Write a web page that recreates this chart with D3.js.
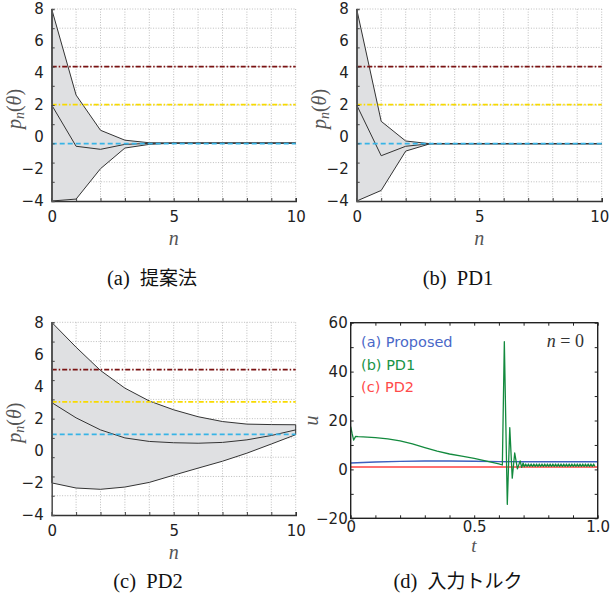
<!DOCTYPE html>
<html><head><meta charset="utf-8">
<script src="https://cdn.jsdelivr.net/npm/d3@7"></script>
<style>body{margin:0;background:#fff}svg{display:block}</style>
</head><body>
<svg id="c" width="610" height="604"></svg>
<script>
// ---------- data ----------
const nSteps = [0,1,2,3,4,5,6,7,8,9,10];
const nTickLabels = [0,5,10];
const pTickLabels = [8,6,4,2,0,-2,-4];
const nGrid = [1,2,3,4,5,6,7,8,9,10];
const pGrid = [8,6.8,5.6,4.4,3.2,2.0,0.8,-0.4,-1.6,-2.8];

// (a) proposed
const upperA  = [8, 2.62, 0.42, -0.2, -0.36, -0.38, -0.38, -0.38, -0.38, -0.38, -0.38];
const middleA = [2, -0.58, -0.77, -0.46, -0.4, -0.38, -0.38, -0.38, -0.38, -0.38, -0.38];
const lowerA  = [-4, -3.88, -1.98, -0.69, -0.46, -0.38, -0.38, -0.38, -0.38, -0.38, -0.38];
const refA    = [4.4, 2.02, -0.42];
// (b) PD1
const upperB  = [8, 0.98, -0.25, -0.42, -0.42, -0.42, -0.42, -0.42, -0.42, -0.42, -0.42];
const middleB = [2, -1.17, -0.58, -0.42, -0.42, -0.42, -0.42, -0.42, -0.42, -0.42, -0.42];
const lowerB  = [-4, -3.34, -0.88, -0.42, -0.42, -0.42, -0.42, -0.42, -0.42, -0.42, -0.42];
const refB    = [4.4, 2.02, -0.42];
// (c) PD2
const upperC  = [8, 6.45, 5.0, 3.9, 3.1, 2.55, 2.12, 1.82, 1.66, 1.63, 1.62];
const middleC = [3, 2.05, 1.3, 0.8, 0.58, 0.5, 0.47, 0.52, 0.68, 0.95, 1.3];
const lowerC  = [-2, -2.32, -2.4, -2.26, -1.97, -1.52, -1.08, -0.65, -0.15, 0.42, 1.0];
const refC    = [5.05, 3.05, 1.02];

// (d) input torque
const tTickLabels = [0, 0.5, 1.0];
const uTickLabels = [60, 40, 20, 0, -20];
const tMinor = [0,0.1,0.2,0.3,0.4,0.5,0.6,0.7,0.8,0.9,1.0];
const uMinor = [-20,-10,0,10,20,30,40,50,60];
const tBlue = [0, 0.05, 0.1, 0.2, 0.3, 0.4, 0.5, 0.6, 0.7, 0.8, 0.9, 1.0];
const uBlue = [2.6, 2.8, 3.0, 3.3, 3.45, 3.45, 3.35, 3.2, 3.1, 3.1, 3.1, 3.1];
const tRed  = [0, 0.25, 0.5, 0.75, 1.0];
const uRed  = [1.0, 1.0, 1.0, 1.0, 1.0];
const tGreen = [0, 0.006, 0.012, 0.02, 0.03, 0.05, 0.1, 0.15, 0.2, 0.25, 0.3, 0.35, 0.4, 0.45, 0.5, 0.55, 0.6, 0.614,
  0.622, 0.634, 0.644, 0.654, 0.664, 0.675, 0.686, 0.692, 0.698, 0.703,
  0.7085, 0.714, 0.7195, 0.725, 0.7305, 0.736, 0.7415, 0.747, 0.7525, 0.758, 0.7635, 0.769, 0.7745, 0.78,
  0.7855, 0.791, 0.7965, 0.802, 0.8075, 0.813, 0.8185, 0.824, 0.8295, 0.835, 0.8405, 0.846, 0.8515, 0.857,
  0.8625, 0.868, 0.8735, 0.879, 0.8845, 0.89, 0.8955, 0.901, 0.9065, 0.912, 0.9175, 0.923, 0.9285, 0.934,
  0.9395, 0.945, 0.9505, 0.956, 0.9615, 0.967, 0.9725, 0.978, 0.9835, 0.989];
const uGreen = [17.5, 14.5, 12.0, 13.5, 13.4, 13.3, 13.0, 12.5, 11.7, 10.4, 8.9, 7.5, 6.3, 5.4, 4.5, 3.4, 2.3, 1.8,
  52.2, -14.3, 17.1, -3.6, 6.7, 0.2, 3.5, 0.8, 2.6, 1.1,
  2.2, 1.2, 2.2, 1.2, 2.2, 1.2, 2.2, 1.2, 2.2, 1.2, 2.2, 1.2, 2.2, 1.2,
  2.2, 1.2, 2.2, 1.2, 2.2, 1.2, 2.2, 1.2, 2.2, 1.2, 2.2, 1.2, 2.2, 1.2,
  2.2, 1.2, 2.2, 1.2, 2.2, 1.2, 2.2, 1.2, 2.2, 1.2, 2.2, 1.2, 2.2, 1.2,
  2.2, 1.2, 2.2, 1.2, 2.2, 1.2, 2.2, 1.2, 2.2, 1.2];
const legendLabels = ["(a) Proposed", "(b) PD1", "(c) PD2"];
const captions = ["(a) 提案法", "(b) PD1", "(c) PD2", "(d) 入力トルク"];

// ---------- drawing ----------
const svg = d3.select("#c");
const tickFont = "'DejaVu Sans', Verdana, sans-serif";
const mathFont = "'Liberation Serif', 'DejaVu Serif', serif";
const refStyles = [
  {color:"#7a1212", dash:"5,2,1.5,2"},
  {color:"#f8da00", dash:"5,2,1.5,2"},
  {color:"#38b4e6", dash:"5,3"}
];

function drawP(box, upper, middle, lower, refs) {
  const g = svg.append("g");
  const x = d3.scaleLinear().domain([0,10]).range([box.x0, box.x1]);
  const y = d3.scaleLinear().domain([-4,8]).range([box.y1, box.y0]);
  // grid
  g.selectAll(".vg").data(nGrid).join("line")
    .attr("x1", d=>x(d)).attr("x2", d=>x(d)).attr("y1", y(8)).attr("y2", y(-4))
    .attr("stroke", "#bdbdbd").attr("stroke-width", 1).attr("stroke-dasharray", "1,1.6");
  g.selectAll(".hg").data(pGrid).join("line")
    .attr("x1", x(0)).attr("x2", x(10)).attr("y1", d=>y(d)).attr("y2", d=>y(d))
    .attr("stroke", "#bdbdbd").attr("stroke-width", 1).attr("stroke-dasharray", "1,1.6");
  // band
  const area = d3.area().x(i=>x(nSteps[i])).y0(i=>y(lower[i])).y1(i=>y(upper[i]));
  g.append("path").datum(d3.range(nSteps.length)).attr("d", area)
    .attr("fill", "#dfe0e2").attr("stroke", "#333").attr("stroke-width", 1).attr("stroke-linejoin","round");
  const line = d3.line().x(i=>x(nSteps[i])).y(i=>y(middle[i]));
  g.append("path").datum(d3.range(nSteps.length)).attr("d", line)
    .attr("fill", "none").attr("stroke", "#333").attr("stroke-width", 1);
  // reference lines
  refs.forEach((r, k) => {
    g.append("line").attr("x1", x(0)).attr("x2", x(10)).attr("y1", y(r)).attr("y2", y(r))
      .attr("stroke", refStyles[k].color).attr("stroke-width", 1.7)
      .attr("stroke-dasharray", refStyles[k].dash);
  });
  // axes
  const ax = g.append("g").attr("transform", `translate(0,${y(-4)})`)
    .call(d3.axisBottom(x).tickValues(nTickLabels).tickSize(0).tickPadding(10).tickFormat(d3.format("d")));
  ax.select(".domain").remove();
  const axm = g.append("g").attr("transform", `translate(0,${y(-4)})`)
    .call(d3.axisBottom(x).tickValues(nGrid.slice(0,9)).tickSize(-3).tickFormat(""));
  axm.select(".domain").attr("stroke", "#333").attr("stroke-width", 1.6);
  const ay = g.append("g").attr("transform", `translate(${x(0)},0)`)
    .call(d3.axisLeft(y).tickValues(pTickLabels).tickSize(0).tickPadding(8).tickFormat(d3.format("d")));
  ay.select(".domain").remove();
  const aym = g.append("g").attr("transform", `translate(${x(0)},0)`)
    .call(d3.axisLeft(y).tickValues(pGrid.slice(1)).tickSize(-3).tickFormat(""));
  aym.select(".domain").attr("stroke", "#555").attr("stroke-width", 1.6);
  g.selectAll(".tick line").attr("stroke", "#444");
  g.selectAll(".tick text").attr("font-family", tickFont).attr("font-size", 15).attr("fill", "#222");
  // keep the last x label inside the picture
  ax.selectAll(".tick text").attr("dx", d => (d === 10 && box.x1 > 590) ? -2.5 : 0);
  // labels
  g.append("text").attr("x", (box.x0+box.x1)/2).attr("y", box.y1 + 44).attr("text-anchor","middle")
    .attr("font-family", mathFont).attr("font-style","italic").attr("font-size", 20).attr("fill","#555").text("n");
  const yl = g.append("text").attr("transform", `translate(${box.x0-31},${(box.y0+box.y1)/2 + 4}) rotate(-90)`)
    .attr("text-anchor","middle").attr("font-family", mathFont).attr("font-size", 20).attr("fill","#555");
  yl.append("tspan").attr("font-style","italic").text("p");
  yl.append("tspan").attr("font-style","italic").attr("font-size", 14).attr("dy", 3).text("n");
  yl.append("tspan").attr("dy", -3).text("(");
  yl.append("tspan").attr("font-style","italic").text("θ");
  yl.append("tspan").text(")");
}

drawP({x0:51.7, x1:295.7, y0:9, y1:201}, upperA, middleA, lowerA, refA);
drawP({x0:356.7, x1:601.7, y0:9, y1:201}, upperB, middleB, lowerB, refB);
drawP({x0:51.7, x1:295.7, y0:322.3, y1:515}, upperC, middleC, lowerC, refC);

// panel d
(function(){
  const box = {x0:350.7, x1:597.7, y0:322.7, y1:518.3};
  const g = svg.append("g");
  const x = d3.scaleLinear().domain([0,1]).range([box.x0, box.x1]);
  const y = d3.scaleLinear().domain([-20,60]).range([box.y1, box.y0]);
  const mk = (ts, us) => d3.line().x(i=>x(ts[i])).y(i=>y(us[i]))(d3.range(ts.length));
  g.append("path").attr("d", mk(tRed, uRed)).attr("fill","none").attr("stroke","#ff4040").attr("stroke-width",1.4);
  g.append("path").attr("d", mk(tBlue, uBlue)).attr("fill","none").attr("stroke","#3d5fbf").attr("stroke-width",1.4);
  g.append("path").attr("d", mk(tGreen, uGreen)).attr("fill","none").attr("stroke","#138a3e").attr("stroke-width",1.3).attr("stroke-linejoin","round");
  // box & ticks
  g.append("rect").attr("x", box.x0).attr("y", box.y0).attr("width", box.x1-box.x0).attr("height", box.y1-box.y0)
    .attr("fill","none").attr("stroke","#222").attr("stroke-width",1.4);
  const minor = [
    [d3.axisBottom(x).tickValues(tMinor).tickSize(-3), `translate(0,${box.y1})`],
    [d3.axisTop(x).tickValues(tMinor).tickSize(-3), `translate(0,${box.y0})`],
    [d3.axisLeft(y).tickValues(uMinor).tickSize(-3), `translate(${box.x0},0)`],
    [d3.axisRight(y).tickValues(uMinor).tickSize(-3), `translate(${box.x1},0)`]
  ];
  minor.forEach(([a, tr]) => {
    const m = g.append("g").attr("transform", tr).call(a.tickFormat(""));
    m.select(".domain").remove();
    m.selectAll(".tick line").attr("stroke","#222");
  });
  const ax = g.append("g").attr("transform", `translate(0,${box.y1})`)
    .call(d3.axisBottom(x).tickValues(tTickLabels).tickSize(0).tickPadding(3).tickFormat(d3.format(".1f")));
  ax.select(".domain").remove();
  ax.selectAll(".tick text").text(d => d === 0 ? "0" : d3.format(".1f")(d));
  const ay = g.append("g").attr("transform", `translate(${box.x0},0)`)
    .call(d3.axisLeft(y).tickValues(uTickLabels).tickSize(0).tickPadding(3).tickFormat(d3.format("d")));
  ay.select(".domain").remove();
  g.selectAll(".tick text").attr("font-family", tickFont).attr("font-size", 15).attr("fill", "#222");
  g.append("text").attr("x", 474).attr("y", 552).attr("text-anchor","middle")
    .attr("font-family", mathFont).attr("font-style","italic").attr("font-size", 19).attr("fill","#555").text("t");
  g.append("text").attr("transform", `translate(318,${(box.y0+box.y1)/2}) rotate(-90)`).attr("text-anchor","middle")
    .attr("font-family", mathFont).attr("font-style","italic").attr("font-size", 20).attr("fill","#555").text("u");
  const legColors = ["#4a68c8", "#199447", "#ff4a4a"];
  legendLabels.forEach((s, i) => {
    g.append("text").attr("x", 361).attr("y", 347 + i*22.5).attr("font-family", tickFont).attr("font-size", 14.5)
      .attr("fill", legColors[i]).text(s);
  });
  const nt = g.append("text").attr("x", 584).attr("y", 347).attr("text-anchor","end")
    .attr("font-family", mathFont).attr("font-size", 18).attr("fill","#333");
  nt.append("tspan").attr("font-style","italic").text("n");
  nt.append("tspan").text(" = 0");
})();

// captions
const capPos = [[152, 285], [458, 285], [148, 588], [458, 588]];
captions.forEach((s, i) => {
  const parts = s.split(" ");
  const t = svg.append("text").attr("x", capPos[i][0]).attr("y", capPos[i][1]).attr("text-anchor","middle")
    .attr("font-size", 20.5).attr("fill","#111");
  t.append("tspan").attr("font-family", mathFont).text(parts[0] + "\u00a0 ");
  const rest = parts.slice(1).join(" ");
  const isCJK = /[\u3040-\u30ff\u4e00-\u9fff]/.test(rest);
  t.append("tspan").attr("font-family", isCJK ? "'Noto Sans CJK JP', sans-serif" : mathFont)
    .attr("font-size", isCJK ? 19 : 20.5).text(rest);
});
</script>
</body></html>
